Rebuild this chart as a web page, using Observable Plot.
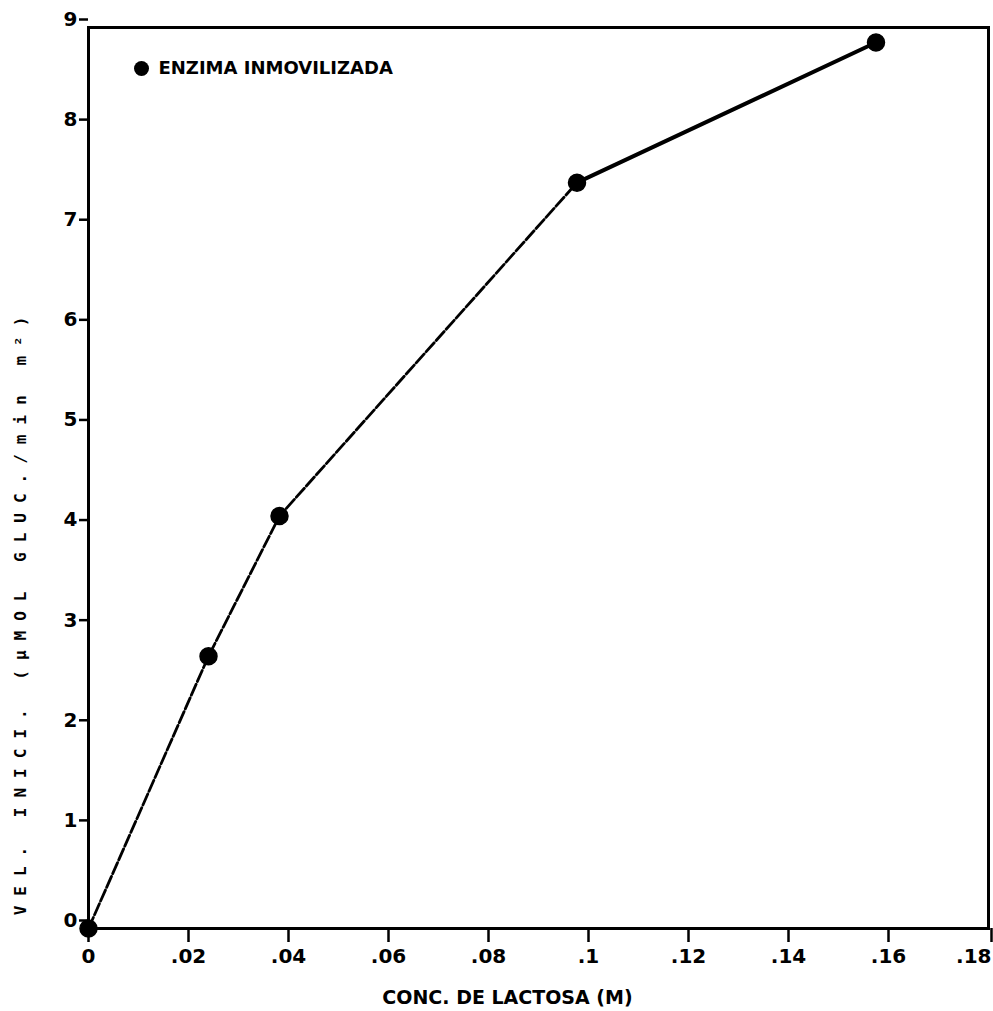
<!DOCTYPE html>
<html>
<head>
<meta charset="utf-8">
<script src="https://cdn.jsdelivr.net/npm/d3@7"></script>
<script src="https://cdn.jsdelivr.net/npm/@observablehq/plot@0.6"></script>
<style>
  html, body { margin: 0; padding: 0; background: #fff; }
  #chart svg { display: block; }
</style>
</head>
<body>
<div id="chart"></div>
<script>
// Initial velocity of the immobilized enzyme vs. lactose concentration
const concLactosa = [0, 0.024, 0.0382, 0.0977, 0.1575];   // M
const velInicial  = [0, 2.72, 4.12, 7.45, 8.85];          // µmol gluc./min m²

const xTicks = [0, 0.02, 0.04, 0.06, 0.08, 0.1, 0.12, 0.14, 0.16, 0.18];
const yTicks = [0, 1, 2, 3, 4, 5, 6, 7, 8, 9];

const serieNombre = "ENZIMA INMOVILIZADA";
const xTitulo = "CONC. DE LACTOSA (M)";
const yTitulo = "VEL. INICI. (µMOL GLUC./min m²)";

const puntos = concLactosa.map((c, i) => ({c, v: velInicial[i]}));
const tramoInicial = puntos.slice(0, 4);
const tramoFinal = puntos.slice(3);

const fontBold = "'DejaVu Sans', sans-serif";
const fmtX = d => d === 0 ? "0" : String(+d.toFixed(2)).replace(/^0/, "");
const ultimoX = xTicks[xTicks.length - 1];

const chart = Plot.plot({
  width: 993,
  height: 1011,
  marginLeft: 88,
  marginRight: 5,
  marginTop: 27,
  marginBottom: 83,
  style: {fontFamily: fontBold, fontWeight: "bold", color: "#000", background: "#fff"},
  x: {domain: [0, 0.18]},
  y: {domain: [0, 9]},
  marks: [
    Plot.frame({stroke: "#000", strokeWidth: 3}),
    Plot.axisX({
      ticks: xTicks.slice(0, -1), tickFormat: fmtX, tickSize: 14, tickPadding: 6,
      strokeWidth: 2.5, fontSize: 20, label: null
    }),
    // last tick label sits flush against the right edge
    Plot.axisX({
      ticks: [ultimoX], tickFormat: fmtX, tickSize: 14, tickPadding: 6,
      strokeWidth: 2.5, fontSize: 20, textAnchor: "end", dx: 3, label: null
    }),
    Plot.axisY({
      ticks: yTicks, tickFormat: d => String(d), tickSize: 9, tickPadding: 2,
      strokeWidth: 2.5, fontSize: 20, dy: -8, label: null
    }),
    Plot.line(tramoInicial, {x: "c", y: "v", stroke: "#000", strokeWidth: 2.8, strokeDasharray: "12,3"}),
    Plot.line(tramoFinal, {x: "c", y: "v", stroke: "#000", strokeWidth: 4}),
    Plot.dot(puntos, {x: "c", y: "v", r: 8.5, fill: "#000", stroke: "#000"}),
    // legend
    Plot.dot([serieNombre], {frameAnchor: "top-left", dx: 53, dy: 41, r: 7.5, fill: "#000"}),
    Plot.text([serieNombre], {
      frameAnchor: "top-left", text: d => d, dx: 70, dy: 41,
      textAnchor: "start", lineAnchor: "middle",
      fontSize: 18, fontWeight: "bold", fill: "#000"
    }),
    // axis titles
    Plot.text([xTitulo], {
      frameAnchor: "bottom", text: d => d, dx: -31, dy: 69,
      textAnchor: "middle", lineAnchor: "middle",
      fontSize: 19, fontWeight: "bold", fill: "#000"
    }),
    Plot.text([yTitulo], {
      frameAnchor: "left", text: d => d, rotate: -90, dx: -68, dy: 133,
      textAnchor: "middle", lineAnchor: "middle",
      fontSize: 16, fontWeight: "bold", fill: "#000",
      fontFamily: "'DejaVu Sans Mono', monospace"
    })
  ]
});

// letter-spaced plotter lettering for the vertical title
d3.select(chart).selectAll("text")
  .filter(function() { return this.textContent === yTitulo; })
  .style("letter-spacing", "10px");

document.getElementById("chart").appendChild(chart);
</script>
</body>
</html>
